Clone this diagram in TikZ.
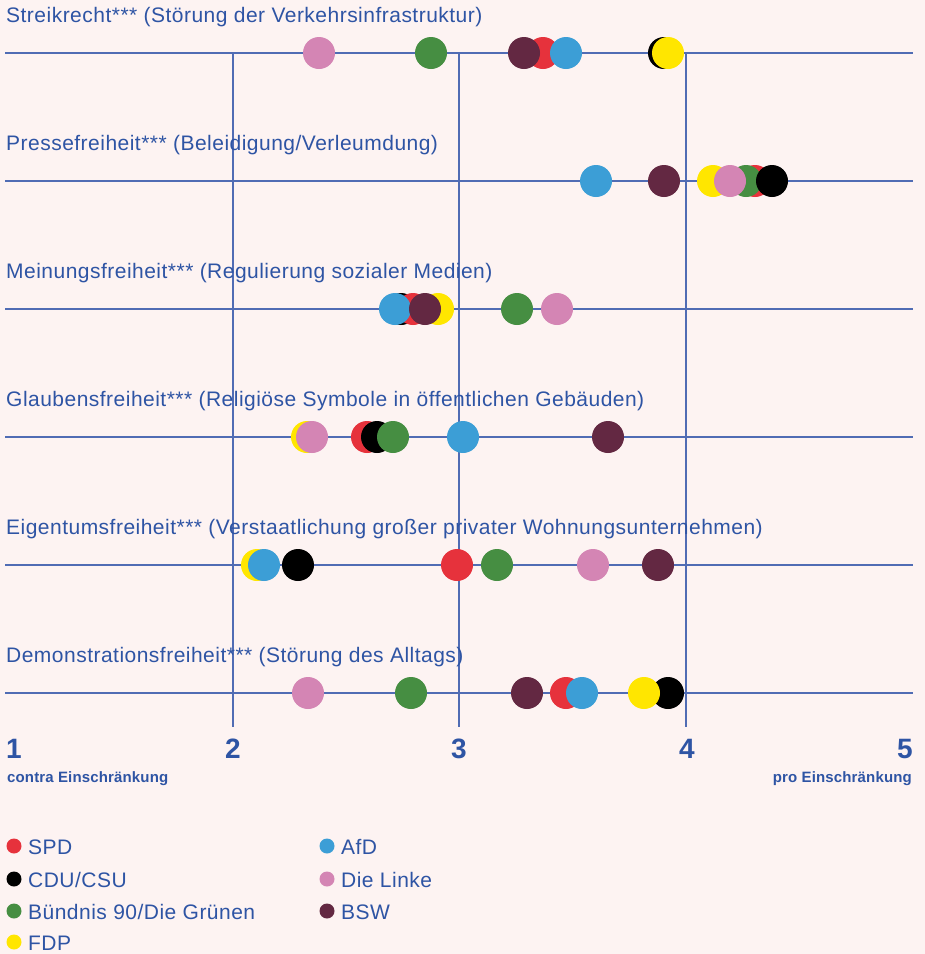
\documentclass[tikz,border=0pt]{standalone}
\usepackage{fontspec}
\setmainfont{Liberation Sans}[LetterSpace=2.3]
\definecolor{bg}{RGB}{253,243,242}
\definecolor{txt}{RGB}{46,84,164}
\definecolor{grid}{RGB}{80,108,180}
\definecolor{spd}{RGB}{230,50,60}
\definecolor{cdu}{RGB}{0,0,0}
\definecolor{gruen}{RGB}{70,142,66}
\definecolor{fdp}{RGB}{255,230,0}
\definecolor{afd}{RGB}{60,158,214}
\definecolor{linke}{RGB}{212,133,180}
\definecolor{bsw}{RGB}{99,40,66}
\begin{document}
\begin{tikzpicture}[x=1pt,y=-1pt,
  dot/.style={circle,minimum size=32pt,inner sep=0pt,draw=none},
  ldot/.style={circle,minimum size=15pt,inner sep=0pt,draw=none},
  gridline/.style={draw=grid,line width=1.1pt},
  ttl/.style={anchor=base west,text=txt,font=\fontsize{21}{24}\selectfont,inner sep=0pt},
  num/.style={anchor=base,text=txt,font=\fontsize{28}{32}\selectfont\bfseries,inner sep=0pt},
  sub/.style={text=txt,font=\fontsize{15}{18}\selectfont\bfseries\addfontfeatures{LetterSpace=1},inner sep=0pt},
  leg/.style={anchor=base west,text=txt,font=\fontsize{21}{24}\selectfont,inner sep=0pt}]
\fill[bg] (0,0) rectangle (925,954);
\useasboundingbox (0,0) rectangle (925,954);
% vertical grid
\foreach \n/\x in {v2/233,v3/459,v4/686}{
  \coordinate (\n t) at (\x,53);
  \coordinate (\n b) at (\x,727);
  \draw[gridline] (\n t) -- (\n b);
}
% rows
\foreach \n/\y in {1/53,2/181,3/309,4/437,5/565,6/693}{
  \coordinate (r\n l) at (5,\y);
  \coordinate (r\n r) at (913,\y);
  \draw[gridline] (r\n l) -- (r\n r);
}
% titles
\node[ttl] (t1) at (6,22) {Streikrecht*** (Störung der Verkehrsinfrastruktur)};
\node[ttl] (t2) at (6,150) {Pressefreiheit*** (Beleidigung/Verleumdung)};
\node[ttl] (t3) at (6,278) {Meinungsfreiheit*** (Regulierung sozialer Medien)};
\node[ttl] (t4) at (6,406) {Glaubensfreiheit*** (Religiöse Symbole in öffentlichen Gebäuden)};
\node[ttl] (t5) at (6,534) {Eigentumsfreiheit*** (Verstaatlichung großer privater Wohnungsunternehmen)};
\node[ttl] (t6) at (6,662) {Demonstrationsfreiheit*** (Störung des Alltags)};
% row 1
\node[dot,fill=linke] (a1) at (319,53) {};
\node[dot,fill=gruen] (a2) at (431,53) {};
\node[dot,fill=spd] (a3) at (543,53) {};
\node[dot,fill=bsw] (a4) at (524,53) {};
\node[dot,fill=afd] (a5) at (566,53) {};
\node[dot,fill=cdu] (a6) at (664,53) {};
\node[dot,fill=fdp] (a7) at (668,53) {};
% row 2
\node[dot,fill=afd] (b1) at (596,181) {};
\node[dot,fill=bsw] (b2) at (664,181) {};
\node[dot,fill=spd] (b3) at (755,181) {};
\node[dot,fill=gruen] (b4) at (746,181) {};
\node[dot,fill=cdu] (b5) at (772,181) {};
\node[dot,fill=fdp] (b6) at (713,181) {};
\node[dot,fill=linke] (b7) at (730,181) {};
% row 3
\node[dot,fill=cdu] (c1) at (401,309) {};
\node[dot,fill=spd] (c2) at (413,309) {};
\node[dot,fill=afd] (c3) at (395,309) {};
\node[dot,fill=fdp] (c4) at (438,309) {};
\node[dot,fill=bsw] (c5) at (425,309) {};
\node[dot,fill=gruen] (c6) at (517,309) {};
\node[dot,fill=linke] (c7) at (557,309) {};
% row 4
\node[dot,fill=fdp] (d1) at (307,437) {};
\node[dot,fill=linke] (d2) at (312,437) {};
\node[dot,fill=spd] (d3) at (367,437) {};
\node[dot,fill=cdu] (d4) at (377,437) {};
\node[dot,fill=gruen] (d5) at (393,437) {};
\node[dot,fill=afd] (d6) at (463,437) {};
\node[dot,fill=bsw] (d7) at (608,437) {};
% row 5
\node[dot,fill=fdp] (e1) at (257,565) {};
\node[dot,fill=afd] (e2) at (264,565) {};
\node[dot,fill=cdu] (e3) at (298,565) {};
\node[dot,fill=spd] (e4) at (457,565) {};
\node[dot,fill=gruen] (e5) at (497,565) {};
\node[dot,fill=linke] (e6) at (593,565) {};
\node[dot,fill=bsw] (e7) at (658,565) {};
% row 6
\node[dot,fill=linke] (f1) at (308,693) {};
\node[dot,fill=gruen] (f2) at (411,693) {};
\node[dot,fill=bsw] (f3) at (527,693) {};
\node[dot,fill=spd] (f4) at (566,693) {};
\node[dot,fill=afd] (f5) at (582,693) {};
\node[dot,fill=cdu] (f6) at (668,693) {};
\node[dot,fill=fdp] (f7) at (644,693) {};
% axis numbers
\node[num,anchor=base west] (n1) at (6,758) {1};
\node[num] (n2) at (233,758) {2};
\node[num] (n3) at (459,758) {3};
\node[num] (n4) at (687,758) {4};
\node[num,anchor=base east] (n5) at (913,758) {5};
\node[sub,anchor=base west] (s1) at (7,782) {contra Einschränkung};
\node[sub,anchor=base east] (s5) at (912,782) {pro Einschränkung};
% legend
\node[ldot,fill=spd] (l1) at (14,846) {};
\node[leg] (lt1) at (28,854) {SPD};
\node[ldot,fill=cdu] (l2) at (14,879) {};
\node[leg] (lt2) at (28,887) {CDU/CSU};
\node[ldot,fill=gruen] (l3) at (14,911) {};
\node[leg] (lt3) at (28,919) {Bündnis 90/Die Grünen};
\node[ldot,fill=fdp] (l4) at (14,942) {};
\node[leg] (lt4) at (28,950) {FDP};
\node[ldot,fill=afd] (l5) at (327,846) {};
\node[leg] (lt5) at (341,854) {AfD};
\node[ldot,fill=linke] (l6) at (327,879) {};
\node[leg] (lt6) at (341,887) {Die Linke};
\node[ldot,fill=bsw] (l7) at (327,911) {};
\node[leg] (lt7) at (341,919) {BSW};
\end{tikzpicture}
\end{document}
